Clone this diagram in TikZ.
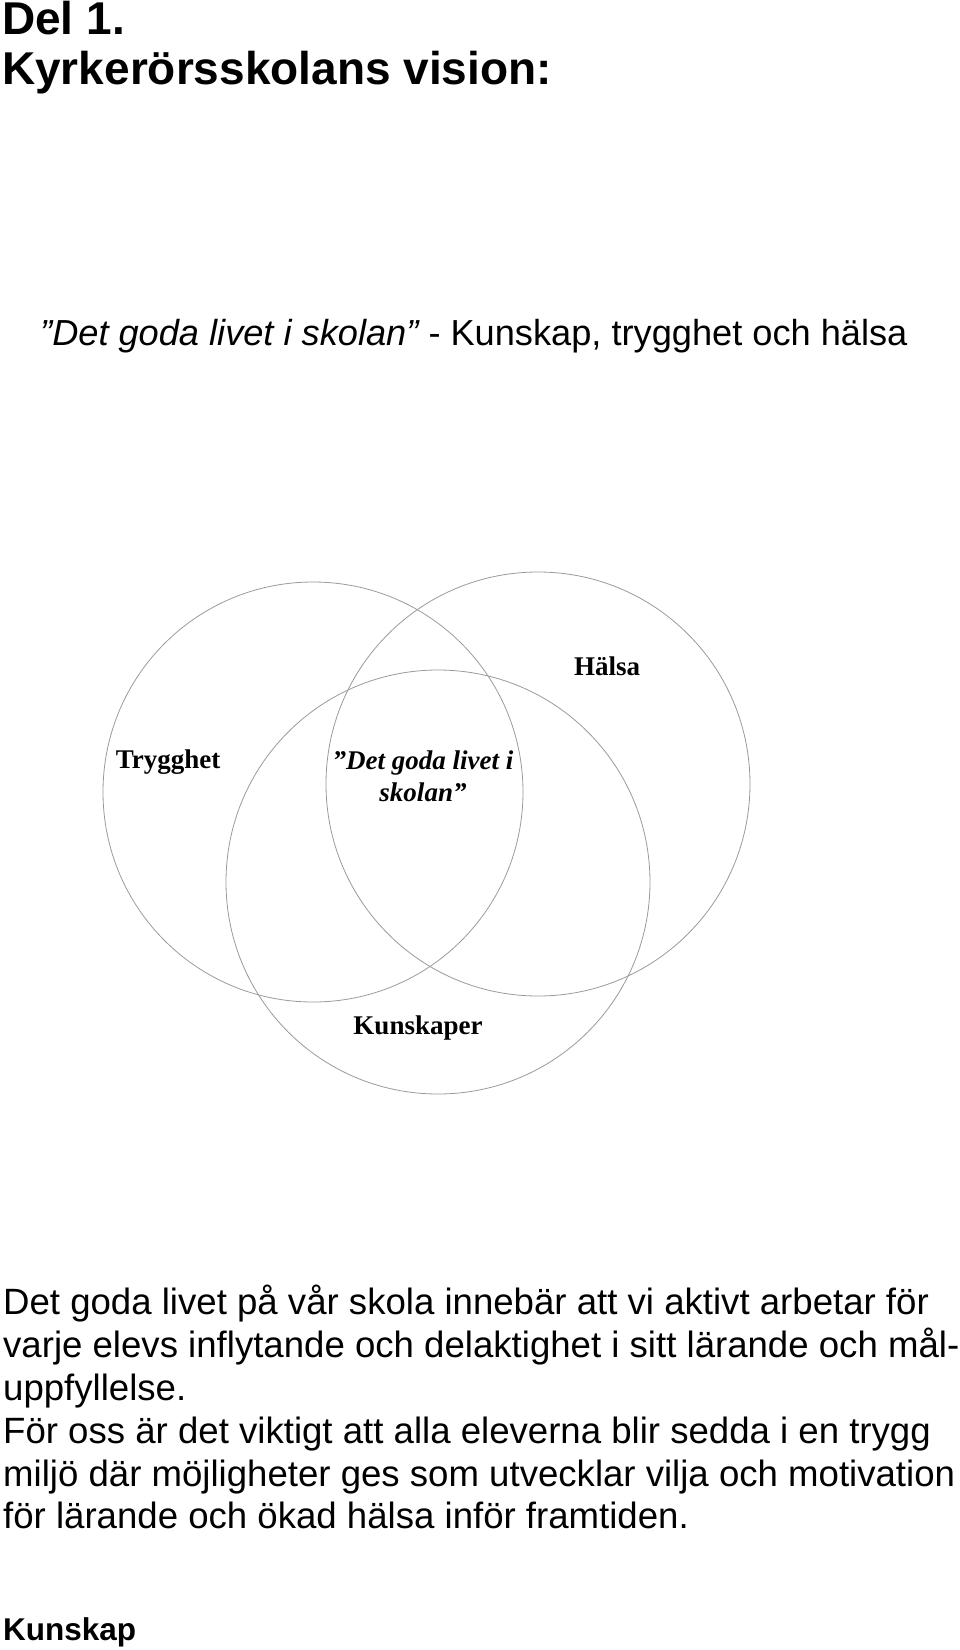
\documentclass[tikz,border=0pt]{standalone}
\usepackage{fontspec}
\setmainfont{Liberation Sans}
\newfontfamily\serifx{Liberation Serif}
\usetikzlibrary{positioning}
\definecolor{Ring}{HTML}{9A9A9A}
\definecolor{Ink}{HTML}{000000}
\tikzset{
    rubrik/.style={anchor=base west, inner sep=0pt, text=Ink, font=\fontsize{46}{52}\selectfont\bfseries},
    brodtext/.style={anchor=base west, inner sep=0pt, text=Ink, font=\fontsize{36.6}{43}\selectfont},
    etikett/.style={anchor=base, inner sep=0pt, text=Ink, font=\serifx\fontsize{27}{31}\selectfont\bfseries},
    ring/.style={draw=Ring, line width=0.8pt},
}

\begin{document}
\begin{tikzpicture}[x=1pt, y=-1pt]
    \useasboundingbox (0,0) rectangle (960,1650);

    % Rubrik
    \node[rubrik] (del) at (2,34) {Del 1.};
    \node[rubrik] (vision) at (2,84) {Kyrkerörsskolans vision:};

    % Motto
    \node[brodtext, font=\fontsize{36.2}{43}\selectfont] (motto) at (40,345) {\itshape ”Det goda livet i skolan”\upshape{} - Kunskap, trygghet och hälsa};

    % Cirklar
    \coordinate (trygg) at (313,792);
    \coordinate (hals) at (538,784);
    \coordinate (kunsk) at (438,882);
    \draw[ring] (trygg) circle (210pt);
    \draw[ring] (hals) circle (212pt);
    \draw[ring] (kunsk) circle (212pt);

    % Etiketter
    \node[etikett] (trygghet) at (168,768) {Trygghet};
    \node[etikett] (halsa) at (607,675) {Hälsa};
    \node[etikett] (kunskaper) at (418,1034) {Kunskaper};
    \node[etikett, font=\serifx\fontsize{27}{31}\selectfont\bfseries\itshape] (mitt1) at (423,769) {”Det goda livet i};
    \node[etikett, font=\serifx\fontsize{27}{31}\selectfont\bfseries\itshape] (mitt2) at (423,801) {skolan”};

    % Brödtext
    \node[brodtext] (rad1) at (3,1314) {Det goda livet på vår skola innebär att vi aktivt arbetar för};
    \node[brodtext] (rad2) at (3,1357) {varje elevs inflytande och delaktighet i sitt lärande och mål-};
    \node[brodtext] (rad3) at (3,1400) {uppfyllelse.};
    \node[brodtext] (rad4) at (3,1443) {För oss är det viktigt att alla eleverna blir sedda i en trygg};
    \node[brodtext] (rad5) at (3,1486) {miljö där möjligheter ges som utvecklar vilja och motivation};
    \node[brodtext] (rad6) at (3,1528) {för lärande och ökad hälsa inför framtiden.};

    % Nästa avsnitt
    \node[rubrik, font=\fontsize{31.5}{36}\selectfont\bfseries] (kunskap) at (3,1640) {Kunskap};
\end{tikzpicture}
\end{document}
